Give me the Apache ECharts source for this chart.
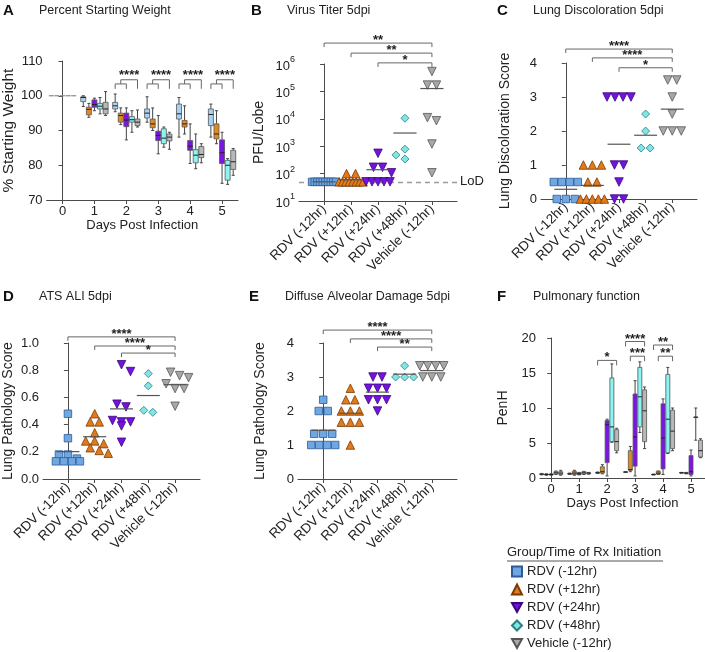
<!DOCTYPE html>
<html><head><meta charset="utf-8">
<script src="https://cdn.jsdelivr.net/npm/echarts@6/dist/echarts.min.js"></script>
<style>html,body{margin:0;padding:0;background:#fff}#c{width:705px;height:652px}</style>
</head><body><div id="c"></div>
<script>
// ---------------- DATA ----------------
const groups = ['RDV (-12hr)', 'RDV (+12hr)', 'RDV (+24hr)', 'RDV (+48hr)', 'Vehicle (-12hr)'];
const dayTicks = [0, 1, 2, 3, 4, 5];
const groupTicks = [0, 1, 2, 3, 4];

// A: % starting weight, per day 0..5: [min, q1, median, q3, max]
const weightRDVm12 = [[100,100,100,100,100],[96.9,98.3,99.5,99.7,100],[95.4,96.2,97.1,98.1,100.5],[92.4,93.6,95,96.2,99.7],[88.1,93.3,94.8,97.6,99.5],[88.1,91.4,94.6,96.2,97.6]];
const weightRDVp12 = [[100,100,100,100,100],[93.8,94.5,96.1,96.7,97.8],[91.7,92.4,94.3,95,96.5],[90,90.8,91.9,93.3,96.5],[89,91,91.9,92.9,97.1],[86.2,87.6,89,91.9,95.7]];
const weightRDVp24 = [[100,100,100,100,100],[95.7,96.7,97.5,98.8,99.3],[87.3,91.1,93,95,96.5],[83.3,87.1,88.6,89.8,94.3],[80.5,84.3,85.5,87.1,91.9],[74.8,80.5,83.6,87.3,89.5]];
const weightRDVp48 = [[100,100,100,100,100],[94.8,96.2,97,97.8,99.5],[89.5,92.4,93.1,94,95.7],[85.2,86.2,87.8,90.5,91],[79,80.7,82.9,84.5,89],[74.5,75.7,80,81.4,81.9]];
const weightVehicle = [[100,100,100,100,100],[94.3,94.8,96.2,98.1,101.2],[91,91.4,92.4,93.3,95.9],[84.6,87,88.1,89,89.5],[80.7,82.2,83.1,85.4,86.2],[77.1,78.8,81,84.3,84.8]];
const sigDaysA = [2, 3, 4, 5];
const sigLabelsA = ['****', '****', '****', '****'];

// B: virus titer (PFU/lobe)
const titerRDVm12 = [50,50,50,50,50,50,50,50,50,50];
const titerRDVp12 = [100,100,50,50,50,50,50,50,50,50];
const titerRDVp24 = [550,170,170,107,50,50,50,50,50];
const titerRDVp48 = [10500,780,340,480];
const titerVehicle = [530000,170000,170000,8500,11000,1200,107];
const LOD = 50;
const sigB = [[0,4,'**'],[1,4,'**'],[2,4,'*']];

// C: lung discoloration score
const discolRDVm12 = [0.5,0.5,0.5,0.5,0,0,0];
const discolRDVp12 = [1,1,1,0.5,0.5,0,0,0,0,0];
const discolRDVp24 = [3,3,3,3,1,1,0.5,0,0];
const discolRDVp48 = [2.5,2,1.5,1.5];
const discolVehicle = [3.5,3.5,3,2.5,2,2,2];
const sigC = [[0,4,'****'],[1,4,'****'],[2,4,'*']];

// D: ATS ALI
const atsRDVm12 = [0.48,0.30,0.18,0.18,0.15,0.13,0.13,0.13,0.13];
const atsRDVp12 = [0.48,0.42,0.42,0.34,0.28,0.28,0.26,0.23,0.21,0.19];
const atsRDVp24 = [0.84,0.79,0.55,0.53,0.43,0.42,0.42,0.39,0.27];
const atsRDVp48 = [0.775,0.685,0.505,0.49];
const atsVehicle = [0.785,0.76,0.745,0.70,0.665,0.665,0.535];
const sigD = [[0,4,'****'],[1,4,'****'],[2,4,'*']];

// E: diffuse alveolar damage
const dadRDVm12 = [2.33,2,2,1.33,1.33,1.33,1,1,1,1];
const dadRDVp12 = [2.67,2.33,2.33,2,2,2,1.67,1.67,1.67,1];
const dadRDVp24 = [3,3,2.67,2.67,2.67,2.33,2.33,2.33,2];
const dadRDVp48 = [3.33,3,3,3];
const dadVehicle = [3.33,3.33,3.33,3.33,3,3,3];
const sigE = [[0,4,'****'],[1,4,'****'],[2,4,'**']];

// F: PenH per day 0..5: [min, q1, median, q3, max]
const penhRDVm12 = [[0.45,0.5,0.55,0.6,0.65],[0.5,0.55,0.6,0.65,0.7],[0.65,0.7,0.75,0.8,0.85],[0.8,0.82,0.85,0.88,0.9],[0.45,0.48,0.5,0.52,0.55],[0.7,0.72,0.75,0.78,0.8]];
const penhRDVp12 = [[0.4,0.45,0.5,0.55,0.6],[0.4,0.5,0.7,0.95,1.1],[0.6,0.7,0.9,1.6,1.9],[0.9,1.1,1.2,3.9,4.5],[0.5,0.55,0.7,0.95,1.0],[0.6,0.65,0.7,0.75,0.8]];
const penhRDVp24 = [[0.4,0.45,0.5,0.55,0.6],[0.45,0.5,0.6,0.75,0.8],[0.3,2.2,7.6,8.2,8.4],[0.3,1.7,5.85,12,13.9],[0.5,1.3,5.7,10.6,11.3],[0.3,0.5,0.9,3.2,4.0]];
const penhRDVp48 = [[0.5,0.6,0.75,0.9,1.0],[0.5,0.6,0.75,0.9,0.95],[5.1,5.2,7.3,14.3,16.3],[6.5,7.3,11.6,15.8,16.6],[3.5,3.6,8.4,14.8,15.8],[5.4,8.7,8.7,8.7,10]];
const penhVehicle = [[0.4,0.5,0.7,0.9,1.1],[0.55,0.6,0.7,0.75,0.8],[3.6,3.9,5.2,6.9,7.1],[4.2,5.2,9.6,12.6,13],[3.9,4.2,6.7,9.7,10],[2.9,3.0,3.9,5.4,5.6]];
const sigF = [[2,0,4,'*'],[3,0,4,'****'],[3,1,4,'***'],[4,0,4,'**'],[4,1,4,'**']];

// ---------------- STYLE / LAYOUT ----------------
const FONT = '"Liberation Sans", Arial, Helvetica, sans-serif';
const fillC = ['#6fa7e3','#e27a1c','#7412e0','#7fe5e5','#a8a8a8'];
const edgeC = ['#2d5c95','#7a3b05','#3a0878','#2a7f80','#555555'];
const boxFill = ['#a6d3f5','#e4891e','#7d14e6','#8af5f3','#b8b8b8'];
const DOWN = 'path://M0,0L10,0L5,9Z';
const symbols = ['rect','triangle',DOWN,'diamond',DOWN];
const symSize = [7.5, 8.5, 8.5, 8, 8.5];
const offA = [-0.35,-0.175,0,0.175,0.35];
const offF = [-0.34,-0.17,0,0.17,0.34];
const AX = '#4a4a4a';

const grids = [
  {left:43, top:61, width:195, height:139},
  {left:299, top:64, width:158, height:137},
  {left:541, top:63, width:156, height:136},
  {left:43, top:343, width:157, height:136},
  {left:298, top:343, width:159, height:136},
  {left:540, top:338, width:165, height:140}
];
const catMin = -0.93, catMax = 4.93;

function swarm(vals, pxY, pxX, toY) {
  const size = 8, step = 9, maxHalf = 12;
  const pts = vals.map(v => ({v, y: toY(v) * pxY})).sort((a, b) => b.y - a.y);
  const rows = [];
  pts.forEach(p => { const r = rows[rows.length - 1]; if (r && Math.abs(r[0].y - p.y) < size * 0.6) r.push(p); else rows.push([p]); });
  const placed = [];
  rows.forEach(r => {
    const k = r.length;
    const sp = k > 1 ? Math.min(step, 2 * maxHalf / (k - 1)) : 0;
    const shifts = [0, step / 2, -step / 2, step, -step, 1.5 * step, -1.5 * step];
    let best = 0;
    for (const s of shifts) {
      const xs = r.map((p, i) => (i - (k - 1) / 2) * sp + s);
      if (Math.max(...xs.map(Math.abs)) > maxHalf + 2) continue;
      const ok = r.every((p, i) => placed.every(q => Math.abs(q.x - xs[i]) >= size * 0.9 || Math.abs(q.y - p.y) >= size * 0.85));
      if (ok) { best = s; break; }
    }
    r.forEach((p, i) => { p.x = (i - (k - 1) / 2) * sp + best; placed.push(p); });
  });
  return placed.map(p => [p.x / pxX, p.v]);
}

function axisLineStyle() { return {show: true, lineStyle: {color: AX, width: 1}}; }

function catXAxis(gi) {
  return {gridIndex: gi, type: 'value', min: catMin, max: catMax,
    axisLine: axisLineStyle(), splitLine: {show: false},
    axisTick: {show: true, customValues: groupTicks, length: 4, lineStyle: {color: AX}},
    axisLabel: {customValues: groupTicks, rotate: 45, margin: 6, fontSize: 13.5, color: '#222', fontFamily: FONT,
      formatter: v => groups[Math.round(v)]}};
}
function dayXAxis(gi, min, max) {
  return {gridIndex: gi, type: 'value', min, max,
    axisLine: axisLineStyle(), splitLine: {show: false},
    axisTick: {show: true, customValues: dayTicks, length: 4, lineStyle: {color: AX}},
    axisLabel: {customValues: dayTicks, fontSize: 13, color: '#222', fontFamily: FONT, margin: 5},
    name: 'Days Post Infection', nameLocation: 'middle', nameGap: 18,
    nameTextStyle: {fontSize: 13, color: '#222', fontFamily: FONT}};
}
function yAx(gi, o, name, gap, fs) {
  return Object.assign({gridIndex: gi, type: 'value', axisLine: axisLineStyle(), splitLine: {show: false},
    axisTick: {show: true, length: 4, lineStyle: {color: AX}},
    axisLabel: {fontSize: 13, color: '#222', fontFamily: FONT, margin: 4},
    name, nameLocation: 'middle', nameGap: gap, nameRotate: 90,
    nameTextStyle: {fontSize: fs || 14, color: '#222', fontFamily: FONT}}, o);
}

const xAxes = [dayXAxis(0, -0.5, 5.5), catXAxis(1), catXAxis(2), catXAxis(3), catXAxis(4), dayXAxis(5, -0.4, 5.5)];
const yAxes = [
  yAx(0, {min: 70, max: 110, interval: 10}, '% Starting Weight', 26, 15.5),
  yAx(1, {type: 'log', min: 10, max: 1e6, logBase: 10,
    axisLabel: {margin: 4, color: '#222', fontFamily: FONT,
      formatter: v => '{b|10}{s|' + Math.round(Math.log10(v)) + '}',
      rich: {b: {fontSize: 13, fontFamily: FONT, color: '#222', verticalAlign: 'bottom', lineHeight: 17},
             s: {fontSize: 9, fontFamily: FONT, color: '#222', verticalAlign: 'top', lineHeight: 17}}}}, 'PFU/Lobe', 33),
  yAx(2, {min: 0, max: 4, interval: 1}, 'Lung Discoloration Score', 29),
  yAx(3, {min: 0, max: 1, interval: 0.2, axisLabel: {fontSize: 13, color: '#222', fontFamily: FONT, margin: 4, formatter: v => v.toFixed(1)}}, 'Lung Pathology Score', 28),
  yAx(4, {min: 0, max: 4, interval: 1}, 'Lung Pathology Score', 31),
  yAx(5, {min: 0, max: 20, interval: 5}, 'PenH', 30)
];

// ---------- series builders ----------
function boxSeries(gi, sets, offs, width) {
  const data = [];
  sets.forEach((set, g) => set.forEach((b, d) => data.push([dayTicks[d] + offs[g], b[0], b[1], b[2], b[3], b[4], g])));
  return {type: 'custom', xAxisIndex: gi, yAxisIndex: gi, silent: true, z: 2, data,
    encode: {x: 0, y: [1, 2, 3, 4, 5]},
    renderItem(params, api) {
      const x = api.value(0), g = api.value(6);
      const c = v => api.coord([x, v]);
      const pMin = c(api.value(1)), pQ1 = c(api.value(2)), pMed = c(api.value(3)), pQ3 = c(api.value(4)), pMax = c(api.value(5));
      const px = pMin[0], hw = width / 2;
      if (api.value(5) - api.value(1) < 1e-6) {
        return {type: 'line', shape: {x1: px - hw, y1: pMed[1], x2: px + hw, y2: pMed[1]}, style: {stroke: '#8a8a8a', lineWidth: 1.2}};
      }
      const st = {stroke: '#444', lineWidth: 1};
      return {type: 'group', children: [
        {type: 'line', shape: {x1: px, y1: pMax[1], x2: px, y2: pQ3[1]}, style: st},
        {type: 'line', shape: {x1: px, y1: pQ1[1], x2: px, y2: pMin[1]}, style: st},
        {type: 'line', shape: {x1: px - 1.5, y1: pMax[1], x2: px + 1.5, y2: pMax[1]}, style: st},
        {type: 'line', shape: {x1: px - 1.5, y1: pMin[1], x2: px + 1.5, y2: pMin[1]}, style: st},
        {type: 'rect', shape: {x: px - hw, y: pQ3[1], width: width, height: Math.max(0.5, pQ1[1] - pQ3[1])},
          style: {fill: boxFill[g], stroke: '#555', lineWidth: 0.8}},
        {type: 'line', shape: {x1: px - hw, y1: pMed[1], x2: px + hw, y2: pMed[1]}, style: {stroke: '#222', lineWidth: 1}}
      ]};
    }};
}

function scatterPanel(gi, sets, toY, pxY) {
  const g = grids[gi];
  const pxX = g.width / (catMax - catMin);
  const out = [];
  sets.forEach((vals, k) => {
    out.push({type: 'scatter', name: groups[k], xAxisIndex: gi, yAxisIndex: gi, z: 4,
      symbol: symbols[k], symbolSize: symSize[k],
      itemStyle: {color: fillC[k], borderColor: edgeC[k], borderWidth: 0.8, opacity: 1},
      data: swarm(vals, pxY, pxX, toY).map(p => [k + p[0], p[1]])});
  });
  out.push({type: 'custom', xAxisIndex: gi, yAxisIndex: gi, silent: true, z: 5,
    data: sets.map((a, k) => [k, a.reduce((s, v) => s + v, 0) / a.length]),
    encode: {x: 0, y: 1},
    renderItem(params, api) {
      const l = api.coord([api.value(0) - 0.43, api.value(1)]);
      const r = api.coord([api.value(0) + 0.43, api.value(1)]);
      return {type: 'line', shape: {x1: l[0], y1: l[1], x2: r[0], y2: r[1]}, style: {stroke: '#555', lineWidth: 1.2}};
    }});
  return out;
}

function starText(x, y, label) {
  return {type: 'text', style: {text: label, x, y, align: 'center', verticalAlign: 'middle',
    fontSize: 13, fontWeight: 'bold', fontFamily: FONT, fill: '#222'}};
}

function bracketSeries(gi, list, tick) {
  // list items: [x1, x2, y, label]
  return {type: 'custom', xAxisIndex: gi, yAxisIndex: gi, clip: false, silent: true, z: 10,
    data: list.map(b => [b[0], b[1], b[2]]), encode: {x: [0, 1], y: 2},
    renderItem(params, api) {
      const lab = list[params.dataIndex][3];
      const p1 = api.coord([api.value(0), api.value(2)]);
      const p2 = api.coord([api.value(1), api.value(2)]);
      return {type: 'group', children: [
        {type: 'polyline', shape: {points: [[p1[0], p1[1] + tick], [p1[0], p1[1]], [p2[0], p2[1]], [p2[0], p2[1] + tick]]},
          style: {stroke: '#666', lineWidth: 1, fill: null}},
        starText((p1[0] + p2[0]) / 2, p1[1] - 2.5, lab)
      ]};
    }};
}

function bracketA() {
  const ySmall = 103.4, yTop = 104.6;
  return {type: 'custom', xAxisIndex: 0, yAxisIndex: 0, clip: false, silent: true, z: 10,
    data: sigDaysA.map(d => [d + offA[0], d + offA[2], d + (offA[0] + offA[2]) / 2, d + offA[4], ySmall, yTop]),
    encode: {x: [0, 1, 2, 3], y: [4, 5]},
    renderItem(params, api) {
      const a = api.coord([api.value(0), api.value(4)]);
      const b = api.coord([api.value(1), api.value(4)]);
      const m = api.coord([api.value(2), api.value(5)]);
      const r = api.coord([api.value(3), api.value(5)]);
      const st = {stroke: '#666', lineWidth: 1, fill: null};
      return {type: 'group', children: [
        {type: 'polyline', shape: {points: [[a[0], a[1] + 5], [a[0], a[1]], [b[0], b[1]], [b[0], b[1] + 5]]}, style: st},
        {type: 'polyline', shape: {points: [[m[0], a[1]], [m[0], m[1]], [r[0], r[1]], [r[0], r[1] + 9]]}, style: st},
        starText((m[0] + r[0]) / 2, m[1] - 4, sigLabelsA[params.dataIndex])
      ]};
    }};
}

const series = [];
series.push(boxSeries(0, [weightRDVm12, weightRDVp12, weightRDVp24, weightRDVp48, weightVehicle], offA, 5));
series.push(bracketA());

const idY = v => v;
const bSeries = scatterPanel(1, [titerRDVm12, titerRDVp12, titerRDVp24, titerRDVp48, titerVehicle], Math.log10, grids[1].height / 5);
bSeries[0].markLine = {silent: true, symbol: 'none', z: 1,
  lineStyle: {type: [5, 4], color: '#9a9a9a', width: 1.3},
  label: {show: true, position: 'end', formatter: 'LoD', fontSize: 13, color: '#222', fontFamily: FONT, distance: 3},
  data: [{yAxis: LOD}]};
series.push(...bSeries);
series.push(bracketSeries(1, sigB.map((s, i) => [s[0], s[1], [5.8e6, 2.5e6, 1.1e6][i], s[2]]), 4));

series.push(...scatterPanel(2, [discolRDVm12, discolRDVp12, discolRDVp24, discolRDVp48, discolVehicle], idY, grids[2].height / 4));
series.push(bracketSeries(2, sigC.map((s, i) => [s[0], s[1], [4.41, 4.15, 3.86][i], s[2]]), 4));

series.push(...scatterPanel(3, [atsRDVm12, atsRDVp12, atsRDVp24, atsRDVp48, atsVehicle], idY, grids[3].height / 1));
series.push(bracketSeries(3, sigD.map((s, i) => [s[0], s[1], [1.045, 0.978, 0.926][i], s[2]]), 4));

series.push(...scatterPanel(4, [dadRDVm12, dadRDVp12, dadRDVp24, dadRDVp48, dadVehicle], idY, grids[4].height / 4));
series.push(bracketSeries(4, sigE.map((s, i) => [s[0], s[1], [4.38, 4.12, 3.88][i], s[2]]), 4));

series.push(boxSeries(5, [penhRDVm12, penhRDVp12, penhRDVp24, penhRDVp48, penhVehicle], offF, 4));
series.push(bracketSeries(5, sigF.map(s => [s[0] + offF[s[1]], s[0] + offF[s[2]],
  (s[0] === 2 ? 16.8 : (s[1] === 0 ? (s[0] === 3 ? 19.5 : 19.0) : 17.4)), s[3]]), 5));

// ---------- text: panel titles, legend title ----------
function title(x, y, letter, text) {
  return [
    {type: 'text', left: x, top: y, style: {text: letter, fontSize: 15, fontWeight: 'bold', fontFamily: FONT, fill: '#111'}},
    {type: 'text', left: x + 36, top: y + 1, style: {text, fontSize: 12.5, fontFamily: FONT, fill: '#222'}}
  ];
}
const graphic = [].concat(
  title(3, 3, 'A', 'Percent Starting Weight'),
  title(251, 3, 'B', 'Virus Titer 5dpi'),
  title(497, 3, 'C', 'Lung Discoloration 5dpi'),
  title(3, 289, 'D', 'ATS ALI 5dpi'),
  title(249, 289, 'E', 'Diffuse Alveolar Damage 5dpi'),
  title(497, 289, 'F', 'Pulmonary function'),
  [
    {type: 'text', left: 507, top: 546, style: {text: 'Group/Time of Rx Initiation', fontSize: 13, fontFamily: FONT, fill: '#222'}},
    {type: 'line', shape: {x1: 507, y1: 561, x2: 663, y2: 561}, style: {stroke: '#555', lineWidth: 1}}
  ]
);

const chart = echarts.init(document.getElementById('c'), null, {renderer: 'canvas'});
chart.setOption({
  animation: false,
  backgroundColor: '#fff',
  textStyle: {fontFamily: FONT},
  grid: grids.map(g => Object.assign({containLabel: false}, g)),
  xAxis: xAxes,
  yAxis: yAxes,
  legend: {data: groups, orient: 'vertical', left: 511, top: 565, padding: 0, itemWidth: 10, itemHeight: 10, itemGap: 5,
    selectedMode: false, textStyle: {fontSize: 13, color: '#222', fontFamily: FONT}},
  graphic,
  series
});
</script></body></html>
